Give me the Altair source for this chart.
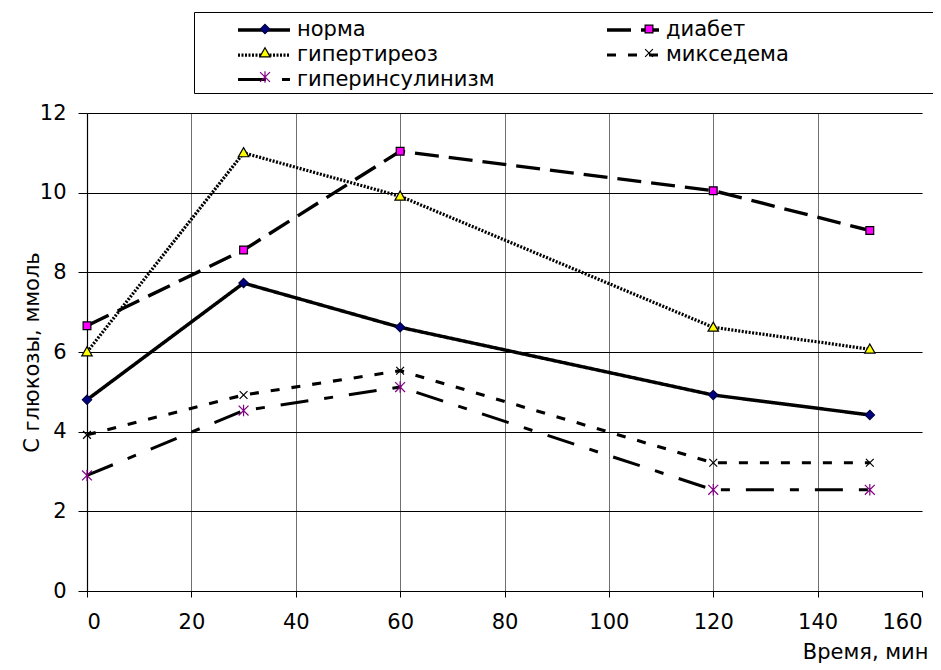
import altair as alt
import pandas as pd

# ---- data ----
times = [0, 30, 60, 120, 150]
series_names = ["норма", "диабет", "гипертиреоз", "микседема", "гиперинсулинизм"]
norma = [4.8, 7.73, 6.62, 4.92, 4.42]
diabet = [6.66, 8.56, 11.04, 10.05, 9.05]
gipertireoz = [6.0, 11.0, 9.91, 6.62, 6.07]
miksedema = [3.92, 4.92, 5.53, 3.22, 3.22]
giperinsulinizm = [2.9, 4.53, 5.12, 2.54, 2.54]
x_ticks = [0, 20, 40, 60, 80, 100, 120, 140, 160]
y_ticks = [0, 2, 4, 6, 8, 10, 12]

values = [norma, diabet, gipertireoz, miksedema, giperinsulinizm]
marker_keys = ["m:" + n for n in series_names]   # separate key so the marker legend stays apart
rows = []
for name, key, vals in zip(series_names, marker_keys, values):
    for t, v in zip(times, vals):
        rows.append({"t": t, "v": v, "series": name, "s2": key})
df = pd.DataFrame(rows)

# ---- styles ----
FONT = "DejaVu Sans"
FS = 21
dashes = [[1, 0], [24, 10], [2, 1.5], [9, 12], [28, 16, 9, 16]]
widths = [3.5, 3, 2, 3, 3]
W = "M-2,0M2,0"
shapes = [
    W + "M0,-0.36L0.36,0L0,0.36L-0.36,0Z",
    W + "M-0.3,-0.3L0.3,-0.3L0.3,0.3L-0.3,0.3Z",
    W + "M0,-0.4L0.4,0.3L-0.4,0.3Z",
    W + "M-0.3,-0.3L0.3,0.3M-0.3,0.3L0.3,-0.3",
    W + "M-0.38,-0.38L0.38,0.38M-0.38,0.38L0.38,-0.38M0,-0.44L0,0.44",
]
fills = ["#000080", "#FF00FF", "#FFFF00", "transparent", "transparent"]
strokes = ["#000040", "#000000", "#000000", "#000000", "#800080"]

PAD = "\u2800" * 12
label_expr = "datum.label == 'микседема' ? datum.label + '" + PAD + "' : datum.label"

common_legend = dict(
    orient="none", legendX=107, legendY=-101, columns=2, direction="horizontal",
    title=None, padding=3, rowPadding=-0.5,
    labelFont=FONT, labelFontSize=FS, labelLimit=800,
    symbolSize=676,
)

legend_lines = alt.Legend(
    symbolType="M-2,0L2,0", symbolStrokeColor="black", symbolStrokeWidth=2.5,
    strokeColor="black", fillColor="white", labelColor="black",
    symbolOffset=52, labelOffset=18, columnPadding=71, labelExpr=label_expr,
    **common_legend,
)
legend_marks = alt.Legend(
    labelColor="transparent", symbolStrokeWidth=1.2, symbolOffset=54, labelOffset=20,
    strokeColor="transparent", fillColor="transparent",
    columnPadding=282, labelExpr="' '",
    **common_legend,
)

x_enc = alt.X("t:Q", scale=alt.Scale(domain=[0, 160], nice=False),
              axis=alt.Axis(values=x_ticks, title="Время, мин",
                            gridColor="#707070",
                            gridOpacity={"condition": {"test": "datum.value == 160", "value": 0}, "value": 1},
                            tickSize=6, labelPadding=14,
                            titleX=841, titleY=61, titleAlign="right",
                            titleBaseline="middle", titleAnchor="end"))
y_enc = alt.Y("v:Q", scale=alt.Scale(domain=[0, 12], nice=False),
              axis=alt.Axis(values=y_ticks, title="С глюкозы, ммоль",
                            gridColor="#000000", tickSize=9, labelPadding=12,
                            titleX=-55, titleY=239, titleAngle=-90,
                            titleAlign="center", titleBaseline="middle"))

lines = alt.Chart(df).mark_line(color="black", strokeCap="butt").encode(
    x=x_enc, y=y_enc,
    strokeDash=alt.StrokeDash("series:N", sort=series_names,
                              scale=alt.Scale(domain=series_names, range=dashes),
                              legend=legend_lines),
    strokeWidth=alt.StrokeWidth("series:N", sort=series_names,
                                scale=alt.Scale(domain=series_names, range=widths),
                                legend=None),
)

points = alt.Chart(df).mark_point(filled=True, size=676, opacity=1, strokeWidth=1.2).encode(
    x="t:Q", y="v:Q",
    shape=alt.Shape("s2:N", sort=marker_keys,
                    scale=alt.Scale(domain=marker_keys, range=shapes), legend=legend_marks),
    fill=alt.Fill("s2:N", sort=marker_keys,
                  scale=alt.Scale(domain=marker_keys, range=fills), legend=legend_marks),
    stroke=alt.Stroke("s2:N", sort=marker_keys,
                      scale=alt.Scale(domain=marker_keys, range=strokes), legend=legend_marks),
)

chart = alt.layer(lines, points).properties(
    width=835, height=478,
    autosize=alt.AutoSizeParams(type="none"),
    padding={"left": 79, "top": 105, "right": 11, "bottom": 75},
    background="white",
).configure_axis(
    labelFont=FONT, labelFontSize=FS, labelColor="black",
    titleFont=FONT, titleFontSize=FS, titleColor="black", titleFontWeight="normal",
    domainColor="black", tickColor="black", gridWidth=1, domainWidth=1.2,
).configure_view(stroke=None)

chart.save("out.html", embed_options={"renderer": "svg", "actions": False})
